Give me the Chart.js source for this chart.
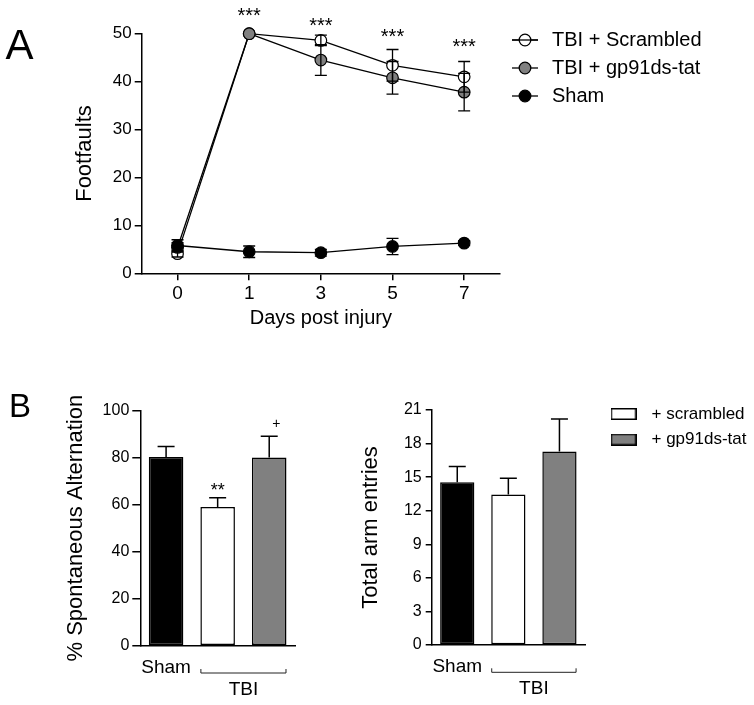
<!DOCTYPE html>
<html><head><meta charset="utf-8">
<script src="https://cdn.jsdelivr.net/npm/chart.js@4.4.1/dist/chart.umd.min.js"></script>
<style>
html,body{margin:0;padding:0;background:#fff;width:754px;height:705px;overflow:hidden;}
canvas{position:absolute;display:block;}
</style></head><body>
<canvas id="cA" width="754" height="340" style="left:0;top:0"></canvas>
<canvas id="cB1" width="330" height="365" style="left:0;top:340px"></canvas>
<canvas id="cB2" width="424" height="365" style="left:330px;top:340px"></canvas>
<script>
const FONT = "'Liberation Sans', Arial, Helvetica, sans-serif";
Chart.defaults.font.family = FONT;
Chart.defaults.color = '#000';

// ---------- Panel A data ----------
const days = ['0', '1', '3', '5', '7'];
const seriesNamesA = ['TBI + Scrambled', 'TBI + gp91ds-tat', 'Sham'];
const scrambledFootfaults = [4.1, 50, 48.6, 43.4, 41.0];
const scrambledFootfaultsErr = [0.7, 0, 1.1, 3.3, 3.2];
const gp91Footfaults = [5.4, 50, 44.5, 40.8, 37.8];
const gp91FootfaultsErr = [1.0, 0, 3.2, 3.4, 3.9];
const shamFootfaults = [5.8, 4.5, 4.3, 5.6, 6.3];
const shamFootfaultsErr = [1.2, 1.2, 0.7, 1.7, 0.5];
const starDays = ['1', '3', '5', '7'];
const starLevels = [54.6, 52.5, 50.2, 48.1];
const yTicksA = [0, 10, 20, 30, 40, 50];

// ---------- Panel B data ----------
const groupsB = ['Sham', 'TBI + scrambled', 'TBI + gp91ds-tat'];
const legendNamesB = ['+ scrambled', '+ gp91ds-tat'];
const bracketGroupLabel = 'TBI';
const bracketSpan = [1, 2];
const alternation = [80.3, 59.0, 80.1];
const alternationErr = [4.5, 4.0, 9.0];
const alternationMarks = ['', '**', '+'];
const alternationMarkLevels = [null, 67.7, 94.3];
const armEntries = [14.55, 13.45, 17.3];
const armEntriesErr = [1.4, 1.45, 2.9];
const yTicksB1 = [0, 20, 40, 60, 80, 100];
const yTicksB2 = [0, 3, 6, 9, 12, 15, 18, 21];

// ---------- helpers / plugins ----------
function lineCircleIcon(fill, through) {
  const c = document.createElement('canvas'); c.width = 28; c.height = 16;
  const g = c.getContext('2d');
  g.strokeStyle = '#000'; g.lineWidth = 1.3;
  g.beginPath(); g.moveTo(1, 8); g.lineTo(27, 8); g.stroke();
  g.beginPath(); g.arc(14, 8, 5.8, 0, Math.PI * 2); g.fillStyle = fill; g.fill(); g.stroke();
  if (through) { g.beginPath(); g.moveTo(1, 8); g.lineTo(27, 8); g.stroke(); }
  return c;
}
function boxIcon(fill) {
  const c = document.createElement('canvas'); c.width = 26; c.height = 12;
  const g = c.getContext('2d');
  g.fillStyle = fill; g.strokeStyle = '#000'; g.lineWidth = 1.5;
  g.fillRect(0.75, 0.75, 24.5, 10.5); g.strokeRect(0.75, 0.75, 24.5, 10.5);
  return c;
}
function makeErrorBars(capWidth, lineWidth, both) {
  return {
    id: 'errorBars',
    afterDatasetsDraw(chart) {
      const ctx = chart.ctx;
      chart.data.datasets.forEach((ds, di) => {
        if (!ds.errors) return;
        const meta = chart.getDatasetMeta(di);
        const ys = chart.scales[meta.yAxisID];
        ctx.save();
        ctx.strokeStyle = '#000'; ctx.lineWidth = lineWidth;
        const half = capWidth / 2;
        meta.data.forEach((el, i) => {
          const v = ds.data[i], e = ds.errors[i];
          if (!e) return;
          const x = el.x;
          const yTop = ys.getPixelForValue(v + e);
          const yBot = ys.getPixelForValue(both ? v - e : v);
          ctx.beginPath();
          ctx.moveTo(x, yTop); ctx.lineTo(x, yBot);
          ctx.moveTo(x - half, yTop); ctx.lineTo(x + half, yTop);
          if (both) { ctx.moveTo(x - half, yBot); ctx.lineTo(x + half, yBot); }
          ctx.stroke();
        });
        ctx.restore();
      });
    }
  };
}
function makeTextMarks(items) {
  return {
    id: 'textMarks',
    afterDatasetsDraw(chart) {
      const ctx = chart.ctx, xs = chart.scales.x, ys = chart.scales.y;
      ctx.save(); ctx.fillStyle = '#000'; ctx.textAlign = 'center'; ctx.textBaseline = 'middle';
      items.forEach(it => {
        ctx.font = it.size + 'px ' + FONT;
        const x = xs.getPixelForValue(it.index) + (it.dx || 0);
        const y = ys.getPixelForValue(it.level) + (it.text.indexOf('*') >= 0 ? 0.23 * it.size : 0);
        ctx.fillText(it.text, x, y);
      });
      ctx.restore();
    }
  };
}
function makePanelLabel(text, x, baseline, size) {
  return {
    id: 'panelLabel',
    afterDraw(chart) {
      const ctx = chart.ctx;
      ctx.save(); ctx.fillStyle = '#000'; ctx.font = size + 'px ' + FONT;
      ctx.textAlign = 'center'; ctx.textBaseline = 'alphabetic';
      ctx.fillText(text, x, baseline);
      ctx.restore();
    }
  };
}
function makeLegendPlacer(left, top) {
  return {
    id: 'legendPlacer',
    afterLayout(chart) {
      const lg = chart.legend; if (!lg) return;
      lg.left = left; lg.top = top; lg.right = chart.width; lg.bottom = chart.height;
    }
  };
}
function makeBracket(label, span, lineOffset, textOffset, size) {
  return {
    id: 'groupBracket',
    afterDraw(chart) {
      const ctx = chart.ctx;
      const meta = chart.getDatasetMeta(0);
      const a = meta.data[span[0]], b = meta.data[span[1]];
      const x1 = a.x - a.width / 2, x2 = b.x + b.width / 2;
      const base = chart.chartArea.bottom;
      const y = base + lineOffset;
      ctx.save();
      ctx.strokeStyle = '#222'; ctx.lineWidth = 1;
      ctx.beginPath();
      ctx.moveTo(x1 + 0.5, y - 4); ctx.lineTo(x1 + 0.5, y); ctx.lineTo(x2 - 0.5, y); ctx.lineTo(x2 - 0.5, y - 4);
      ctx.stroke();
      ctx.fillStyle = '#000'; ctx.font = size + 'px ' + FONT;
      ctx.textAlign = 'center'; ctx.textBaseline = 'middle';
      ctx.fillText(label, (x1 + x2) / 2, base + textOffset);
      ctx.restore();
    }
  };
}

// ---------- Panel A chart ----------
const axisGrid = (tl) => ({display: true, drawOnChartArea: false, drawTicks: true, tickLength: tl, color: '#000', lineWidth: 1.5});
const axisBorder = {display: true, color: '#000', width: 1.5};

const iconsA = [lineCircleIcon('#ffffff', true), lineCircleIcon('#808080', false), lineCircleIcon('#000000', false)];

function lineDs(label, data, errors, fill, order) {
  return {label, data, errors, order, borderColor: '#000', borderWidth: 1.3, tension: 0, fill: false, clip: false,
    pointRadius: 5.8, pointHoverRadius: 5.8, pointBorderWidth: 1.2, pointBackgroundColor: fill, pointBorderColor: '#000'};
}

new Chart(document.getElementById('cA'), {
  type: 'line',
  data: {
    labels: days,
    datasets: [
      lineDs(seriesNamesA[0], scrambledFootfaults, scrambledFootfaultsErr, '#ffffff', 3),
      lineDs(seriesNamesA[1], gp91Footfaults, gp91FootfaultsErr, '#808080', 2),
      lineDs(seriesNamesA[2], shamFootfaults, shamFootfaultsErr, '#000000', 1)
    ]
  },
  options: {
    responsive: false, animation: false, events: [],
    layout: {padding: {left: 0, top: 33.7, right: 254, bottom: 0}},
    scales: {
      x: {
        type: 'category', offset: true,
        grid: axisGrid(7), border: axisBorder,
        ticks: {color: '#000', font: {size: 19}, padding: 1.7, maxRotation: 0, autoSkip: false},
        title: {display: true, text: 'Days post injury', color: '#000', font: {size: 20}, padding: {top: 0, bottom: 10}},
        afterFit: s => { s.height = 66.7; }
      },
      y: {
        min: 0, max: 50,
        afterBuildTicks: s => { s.ticks = yTicksA.map(v => ({value: v})); },
        grid: axisGrid(7), border: axisBorder,
        ticks: {color: '#000', font: {size: 17}, padding: 3},
        title: {display: true, text: 'Footfaults', color: '#000', font: {size: 22}, padding: {top: 72, bottom: 0}},
        afterFit: s => { s.width = 141.7; }
      }
    },
    plugins: {
      tooltip: {enabled: false},
      legend: {
        display: true, position: 'chartArea', align: 'start',
        labels: {
          usePointStyle: true, pointStyleWidth: 34, padding: 8, color: '#000', font: {size: 20},
          generateLabels: () => seriesNamesA.map((t, i) => ({text: t, pointStyle: iconsA[i], fillStyle: '#000', strokeStyle: '#000', lineWidth: 1, hidden: false, datasetIndex: i, fontColor: '#000'}))
        }
      }
    }
  },
  plugins: [
    makeErrorBars(12, 1.3, true),
    makeTextMarks(starDays.map((d, k) => ({index: days.indexOf(d), level: starLevels[k], text: '***', size: 20}))),
    makeLegendPlacer(500, 22),
    makePanelLabel('A', 19.5, 59, 42)
  ]
});

// ---------- Panel B charts ----------
const barColors = ['#000000', '#ffffff', '#808080'];

function barChart(id, values, errs, yTicks, yMax, yTitle, g, extraPlugins, legendOpts) {
  return new Chart(document.getElementById(id), {
    type: 'bar',
    data: {
      labels: groupsB,
      datasets: [{data: values, errors: errs, backgroundColor: barColors, borderColor: '#000', borderWidth: 1.5,
        borderSkipped: false, barPercentage: 0.67, categoryPercentage: 1.0}]
    },
    options: {
      responsive: false, animation: false, events: [],
      layout: {padding: {left: 0, top: g.top, right: g.right, bottom: 0}},
      scales: {
        x: {
          grid: {display: false, drawTicks: false}, border: axisBorder,
          ticks: {color: '#000', font: {size: 19}, padding: g.xPad, maxRotation: 0, autoSkip: false,
            callback: (v, i) => (i === 0 ? groupsB[0] : '')},
          afterFit: s => { s.height = g.xH; }
        },
        y: {
          min: 0, max: yMax,
          afterBuildTicks: s => { s.ticks = yTicks.map(v => ({value: v})); },
          grid: axisGrid(g.tl), border: axisBorder,
          ticks: {color: '#000', font: {size: 16}, padding: g.tPad},
          title: {display: true, text: yTitle, color: '#000', font: {size: 22}, padding: {top: g.titlePad, bottom: 0}},
          afterFit: s => { s.width = g.yW; }
        }
      },
      plugins: {tooltip: {enabled: false}, legend: legendOpts || {display: false}}
    },
    plugins: [makeErrorBars(17, 1.5, false), makeBracket(bracketGroupLabel, bracketSpan, 27.3, 44, 19)].concat(extraPlugins)
  });
}

barChart('cB1', alternation, alternationErr, yTicksB1, 100, '% Spontaneous Alternation',
  {top: 70.7, right: 35, xH: 59.3, yW: 140.3, xPad: 11, tl: 8, tPad: 3, titlePad: 63.2},
  [
    makeTextMarks(alternationMarks.map((t, i) => ({index: i, level: alternationMarkLevels[i], text: t, size: t === '+' ? 14 : 18, dx: t === '+' ? 7 : 0})).filter(m => m.text)),
    makePanelLabel('B', 20, 416.7 - 340, 33)
  ]);

const iconsB = [boxIcon('#ffffff'), boxIcon('#808080')];
barChart('cB2', armEntries, armEntriesErr, yTicksB2, 21, 'Total arm entries',
  {top: 70, right: 169, xH: 60, yW: 101.7, xPad: 10.3, tl: 6, tPad: 4, titlePad: 27.5},
  [makeLegendPlacer(265.5, 57)],
  {
    display: true, position: 'chartArea', align: 'start',
    labels: {
      usePointStyle: true, pointStyleWidth: 39, padding: 8.5, color: '#000', font: {size: 17},
      generateLabels: () => legendNamesB.map((t, i) => ({text: t, pointStyle: iconsB[i], fillStyle: '#000', strokeStyle: '#000', lineWidth: 1, hidden: false, datasetIndex: 0, fontColor: '#000'}))
    }
  });
</script>
</body></html>
